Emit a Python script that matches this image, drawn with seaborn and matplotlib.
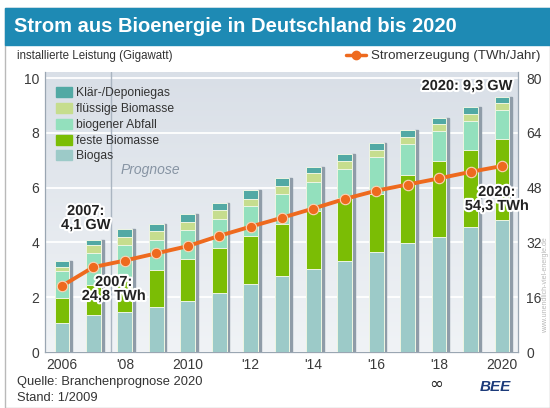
import numpy as np
import pandas as pd
import seaborn as sns
import matplotlib.pyplot as plt
import matplotlib.patheffects as pe
from matplotlib.patches import Patch, Rectangle
from matplotlib.lines import Line2D
from matplotlib.colors import LinearSegmentedColormap

# installed capacity per source (GW)
years = list(range(2006, 2021))
biogas = [1.05, 1.35, 1.47, 1.65, 1.86, 2.16, 2.47, 2.77, 3.03, 3.33, 3.66, 3.97, 4.21, 4.57, 4.82]
feste = [0.91, 1.10, 1.20, 1.34, 1.52, 1.62, 1.77, 1.89, 2.12, 2.29, 2.09, 2.50, 2.76, 2.80, 2.95]
abfall = [1.00, 1.17, 1.25, 1.09, 1.09, 1.09, 1.08, 1.10, 1.07, 1.05, 1.35, 1.12, 1.10, 1.05, 1.06]
fluessig = [0.13, 0.28, 0.27, 0.33, 0.28, 0.30, 0.28, 0.30, 0.30, 0.30, 0.28, 0.27, 0.24, 0.28, 0.27]
klaer = [0.23, 0.20, 0.31, 0.28, 0.29, 0.28, 0.30, 0.30, 0.24, 0.26, 0.26, 0.26, 0.22, 0.24, 0.21]
# electricity generation (TWh/year)
twh = [19.3, 24.8, 26.7, 28.8, 30.9, 33.9, 36.6, 39.2, 41.9, 44.7, 47.1, 48.9, 50.7, 52.6, 54.3]

tick_pos = [0, 2, 4, 6, 8, 10, 12, 14]
tick_labels = ["2006", "'08", "2010", "'12", "'14", "'16", "'18", "2020"]

layers = ["Biogas", "feste Biomasse", "biogener Abfall", "flüssige Biomasse", "Klär-/Deponiegas"]
colors = {
    "Biogas": "#9ccac8",
    "feste Biomasse": "#7bbd05",
    "biogener Abfall": "#93e0bd",
    "flüssige Biomasse": "#c6dd8e",
    "Klär-/Deponiegas": "#52a9a4",
}

df = pd.DataFrame({"Jahr": [str(y) for y in years], "Biogas": biogas,
                   "feste Biomasse": feste, "biogener Abfall": abfall,
                   "flüssige Biomasse": fluessig, "Klär-/Deponiegas": klaer})
cum = df[layers].cumsum(axis=1)

sns.set_style("white")
plt.rcParams["font.family"] = ["Liberation Sans", "DejaVu Sans"]

fig = plt.figure(figsize=(5.5, 4.08), dpi=100)
W, H = 550, 408
ax = fig.add_axes([45 / W, 1 - 352 / H, 473 / W, 280 / H])

# background gradient
cmap = LinearSegmentedColormap.from_list("bg", ["#f0f3f6", "#d9dfe7"])
ax.imshow(np.linspace(0, 1, 100)[:, None], extent=[-0.54, 14.51, 0, 10.22],
          origin="lower", aspect="auto", cmap=cmap, zorder=0)

# stacked bars: draw cumulative totals from the top layer down
first = True
for name in reversed(layers):
    sns.barplot(x=df["Jahr"], y=cum[name], color=colors[name], width=0.47,
                saturation=1, edgecolor="#eef5e2", linewidth=0.7, ax=ax, zorder=3)
    if first:
        for p in list(ax.patches):
            ax.add_patch(Rectangle((p.get_x() + p.get_width(), 0), 0.09, p.get_height(),
                                   color="#8f9ca8", zorder=2))
        first = False

ax.set_xlim(-0.54, 14.51)
ax.set_ylim(0, 10.22)
ax.set_yticks([0, 2, 4, 6, 8, 10])
ax.set_xticks(tick_pos)
ax.set_xticklabels(tick_labels)
ax.set_xlabel("")
ax.set_ylabel("")
ax.yaxis.grid(True, color="white", lw=1.3)
ax.set_axisbelow(True)
ax.tick_params(length=0, labelsize=10, colors="#3a3a3a", pad=4)
for s in ["left", "right", "bottom"]:
    ax.spines[s].set_color("#9aa6b2")
    ax.spines[s].set_linewidth(0.9)
ax.spines["top"].set_visible(False)

ax.axvline(1.55, color="#aab5c1", lw=1, zorder=1)
ax.text(1.85, 6.65, "Prognose", style="italic", color="#8794a3", fontsize=10, va="center", zorder=1)

handles = [Patch(color=colors[n]) for n in reversed(layers)]
ax.legend(handles, list(reversed(layers)), loc="upper left", bbox_to_anchor=(0.0, 0.985),
          frameon=False, fontsize=8.7, handlelength=1.3, handleheight=0.9,
          labelspacing=0.3, handletextpad=0.4, labelcolor="#333333")

# generation line on right axis
ax2 = ax.twinx()
sns.lineplot(x=np.arange(len(twh)), y=twh, color="#ee6a1e", lw=2.8, marker="o",
             markersize=7.5, markeredgecolor="#fbd2b6", markeredgewidth=0.8, ax=ax2)
ax2.set_ylim(0, 81.76)
ax2.set_yticks([0, 16, 32, 48, 64, 80])
ax2.tick_params(length=0, labelsize=10, colors="#3a3a3a", pad=6)
ax2.set_ylabel("")
for s in ax2.spines.values():
    s.set_visible(False)

halo = [pe.withStroke(linewidth=3, foreground="white")]
kw = dict(fontsize=10.5, fontweight="bold", color="#222222", path_effects=halo,
          transform=ax.transData, linespacing=1.0, zorder=5)
ax2.text(0.76, 4.89, "2007:\n4,1 GW", ha="center", va="center", **kw)
ax2.text(1.65, 2.3, "2007:\n24,8 TWh", ha="center", va="center", **kw)
ax2.text(14.35, 9.71, "2020: 9,3 GW", ha="right", va="center", **kw)
ax2.text(13.84, 5.84, "2020:", ha="center", va="center", **kw)
ax2.text(13.84, 5.33, "54,3 TWh", ha="center", va="center", **kw)

# header banner and frame
fig.patches.append(Rectangle((5 / W, 1 - 408 / H), 545 / W, 400 / H, transform=fig.transFigure,
                             fill=False, edgecolor="#b9b9b9", lw=1))
fig.patches.append(Rectangle((5 / W, 1 - 45 / H), 545 / W, 37 / H, transform=fig.transFigure,
                             color="#1e8ab4"))
fig.text(14 / W, 1 - 27 / H, "Strom aus Bioenergie in Deutschland bis 2020", color="white",
         fontsize=14.5, fontweight="bold", va="center")
fig.text(17 / W, 1 - 56 / H, "installierte Leistung (Gigawatt)", fontsize=8.3,
         color="#333333", va="center")
fig.legend([Line2D([], [], color="#ee6a1e", lw=2.5, marker="o", markersize=6)],
           ["Stromerzeugung (TWh/Jahr)"], loc="center right",
           bbox_to_anchor=(547 / W, 1 - 56 / H), frameon=False, fontsize=9.6,
           handlelength=1.5, handletextpad=0.4, borderpad=0, labelcolor="#333333")

fig.text(17 / W, 1 - 382 / H, "Quelle: Branchenprognose 2020", fontsize=9.3, color="#333333", va="center")
fig.text(17 / W, 1 - 398 / H, "Stand: 1/2009", fontsize=9.3, color="#333333", va="center")
fig.text(436 / W, 1 - 384 / H, "∞", fontsize=12, color="#222222", va="center", ha="center",
         family="DejaVu Sans")
fig.text(480 / W, 1 - 387 / H, "BEE", fontsize=11, fontweight="bold", style="italic",
         color="#1d3b7a", va="center")
fig.text(546 / W, 1 - 285 / H, "www.unendlich-viel-energie.de", fontsize=5, color="#b8b8b8",
         rotation=90, va="center", ha="center")

fig.savefig("out.png", dpi=100)
